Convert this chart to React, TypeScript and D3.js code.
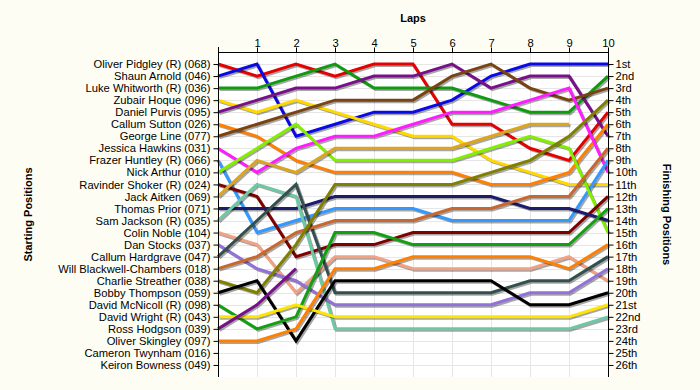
import React, { useEffect, useRef } from "react";
import * as d3 from "d3";

// --- Data ---
const LAPS = [0, 1, 2, 3, 4, 5, 6, 7, 8, 9, 10];

const DRIVERS = [
  "Oliver Pidgley (R) (068)",
  "Shaun Arnold (046)",
  "Luke Whitworth (R) (036)",
  "Zubair Hoque (096)",
  "Daniel Purvis (095)",
  "Callum Sutton (026)",
  "George Line (077)",
  "Jessica Hawkins (031)",
  "Frazer Huntley (R) (066)",
  "Nick Arthur (010)",
  "Ravinder Shoker (R) (024)",
  "Jack Aitken (069)",
  "Thomas Prior (071)",
  "Sam Jackson (R) (035)",
  "Colin Noble (104)",
  "Dan Stocks (037)",
  "Callum Hardgrave (047)",
  "Will Blackwell-Chambers (018)",
  "Charlie Streather (038)",
  "Bobby Thompson (059)",
  "David McNicoll (R) (098)",
  "David Wright (R) (043)",
  "Ross Hodgson (039)",
  "Oliver Skingley (097)",
  "Cameron Twynham (016)",
  "Keiron Bowness (049)",
];

const FINISH_LABELS = [
  "1st", "2nd", "3rd", "4th", "5th", "6th", "7th", "8th", "9th", "10th",
  "11th", "12th", "13th", "14th", "15th", "16th", "17th", "18th", "19th", "20th",
  "21st", "22nd", "23rd", "24th", "25th", "26th",
];

// position of each driver at each lap (lap 0 = grid), null = not running
const N = null;
const POSITIONS: (number | null)[][] = [
  [1, 2, 1, 2, 1, 1, 6, 6, 8, 9, 5],
  [2, 1, 7, 6, 5, 5, 4, 2, 1, 1, 1],
  [3, 3, 2, 1, 3, 3, 3, 4, 5, 5, 2],
  [4, 5, 4, 5, 6, 7, 7, 9, 10, 11, 11],
  [5, 4, 3, 3, 2, 2, 1, 3, 2, 2, 7],
  [6, 7, 9, 10, 10, 10, 10, 11, 11, 10, 6],
  [7, 6, 5, 4, 4, 4, 2, 1, 3, 4, 3],
  [8, 10, 8, 7, 7, 6, 5, 5, 4, 3, 10],
  [9, 15, 14, 13, 13, 13, 14, 14, 14, 14, 9],
  [10, 8, 6, 9, 9, 9, 9, 8, 7, 8, 15],
  [11, 12, 17, 16, 16, 15, 15, 15, 15, 15, 12],
  [12, 9, 10, 8, 8, 8, 8, 7, 6, 6, N],
  [13, 13, 13, 12, 12, 12, 12, 12, 13, 13, 14],
  [14, 11, 12, 23, 23, 23, 23, 23, 23, 23, 22],
  [15, 16, 20, 17, 17, 18, 18, 18, 18, 17, 19],
  [16, 18, 19, 21, 21, 21, 21, 21, 20, 20, 18],
  [17, 14, 11, 20, 20, 20, 20, 20, 19, 19, 17],
  [18, 17, 15, 14, 14, 14, 13, 13, 12, 12, 8],
  [19, 20, 16, 11, 11, 11, 11, 10, 9, 7, 4],
  [20, 19, 24, 19, 19, 19, 19, 19, 21, 21, 20],
  [21, 23, 22, 15, 15, 16, 16, 16, 16, 16, 13],
  [22, 22, 21, 22, 22, 22, 22, 22, 22, 22, 21],
  [23, 21, 18, N, N, N, N, N, N, N, N],
  [24, 24, 23, 18, 18, 17, 17, 17, 17, 18, 16],
  [N, N, N, N, N, N, N, N, N, N, N],
  [N, N, N, N, N, N, N, N, N, N, N],
];

// --- Styles ---
const COLORS = [
  "#e60000", "#0a0ae6", "#109a10", "#ffd800", "#78108a", "#ff8000",
  "#7a4412", "#ff1cff", "#3399ff", "#84ee00", "#800000", "#dba520",
  "#1c1c6c", "#6cc9a4", "#f4a082", "#9272d8", "#34504e", "#c8682e",
  "#808000", "#000000", "#12a012", "#ffe600", "#78108a", "#ff8000",
  "#888888", "#888888",
];

const W = 700;
const H = 390;
const LEFT = 218;
const RIGHT = 608;
const TOP = 52;
const BOTTOM = 377;
const FONT = "'Liberation Sans', Arial, sans-serif";
const BG = "#fdfdf3";

export default function App() {
  const leftRef = useRef<SVGGElement>(null);
  const rightRef = useRef<SVGGElement>(null);
  const topRef = useRef<SVGGElement>(null);

  const x = d3.scaleLinear().domain([0, 10]).range([LEFT, RIGHT]);
  const y = d3.scaleLinear().domain([0, 27]).range([TOP, BOTTOM]);
  const rows = d3.range(1, 27);

  const line = d3
    .line<number | null>()
    .defined((d) => d != null)
    .x((d, i) => x(LAPS[i]))
    .y((d) => y(d as number));

  useEffect(() => {
    document.body.style.margin = "0";
    document.body.style.background = BG;

    const style = (g: d3.Selection<SVGGElement, unknown, null, undefined>) => {
      g.select(".domain").remove();
      g.selectAll(".tick line").attr("stroke", "#000");
      g.selectAll(".tick text")
        .attr("fill", "#000")
        .attr("font-family", FONT)
        .attr("font-size", 11.2);
    };

    d3.select(leftRef.current!)
      .call(
        d3.axisLeft(y).tickValues(rows).tickSize(5).tickPadding(3)
          .tickFormat((d) => DRIVERS[(d as number) - 1])
      )
      .call(style);

    d3.select(rightRef.current!)
      .call(
        d3.axisRight(y).tickValues(rows).tickSize(5).tickPadding(2)
          .tickFormat((d) => FINISH_LABELS[(d as number) - 1])
      )
      .call(style);

    d3.select(topRef.current!)
      .call(
        d3.axisTop(x).tickValues(LAPS).tickSize(5).tickPadding(1)
          .tickFormat((d) => (d === 0 ? "" : String(d)))
      )
      .call(style);
  }, []);

  return (
    <svg width={W} height={H} style={{ display: "block", background: BG }}>
      <rect x={LEFT} y={TOP} width={RIGHT - LEFT} height={BOTTOM - TOP} fill="#fff" />

      {/* grid */}
      <g stroke="#e6e6e6" strokeWidth={1}>
        {rows.map((r) => (
          <line key={"h" + r} x1={LEFT} x2={RIGHT} y1={Math.round(y(r)) + 0.5} y2={Math.round(y(r)) + 0.5} />
        ))}
        {LAPS.map((l) => (
          <line key={"v" + l} x1={Math.round(x(l)) + 0.5} x2={Math.round(x(l)) + 0.5} y1={TOP} y2={BOTTOM} />
        ))}
      </g>

      {/* lines with shadow */}
      {POSITIONS.map((pos, i) => {
        const d = line(pos);
        if (!d || pos.every((p) => p == null)) return null;
        return (
          <g key={i} fill="none" strokeWidth={3} strokeLinejoin="miter">
            <path d={d} stroke="rgba(0,0,0,0.35)" transform="translate(1.5,1.5)" />
            <path d={d} stroke={COLORS[i]} />
          </g>
        );
      })}

      {/* axis frame */}
      <g stroke="#000" strokeWidth={1}>
        <line x1={LEFT + 0.5} x2={LEFT + 0.5} y1={TOP - 5} y2={BOTTOM} />
        <line x1={RIGHT + 0.5} x2={RIGHT + 0.5} y1={TOP} y2={BOTTOM} />
        <line x1={LEFT} x2={RIGHT + 1} y1={TOP + 0.5} y2={TOP + 0.5} />
      </g>

      <g ref={leftRef} transform={`translate(${LEFT + 0.5},0)`} />
      <g ref={rightRef} transform={`translate(${RIGHT + 0.5},0)`} />
      <g ref={topRef} transform={`translate(0,${TOP + 0.5})`} />

      <text x={(LEFT + RIGHT) / 2} y={22} textAnchor="middle" fontFamily={FONT} fontWeight="bold" fontSize={11}>
        Laps
      </text>
      <text
        transform={`translate(32,${(TOP + BOTTOM) / 2}) rotate(-90)`}
        textAnchor="middle"
        fontFamily={FONT}
        fontWeight="bold"
        fontSize={11}
      >
        Starting Positions
      </text>
      <text
        transform={`translate(663,${(TOP + BOTTOM) / 2}) rotate(90)`}
        textAnchor="middle"
        fontFamily={FONT}
        fontWeight="bold"
        fontSize={11}
      >
        Finishing Positions
      </text>
    </svg>
  );
}
